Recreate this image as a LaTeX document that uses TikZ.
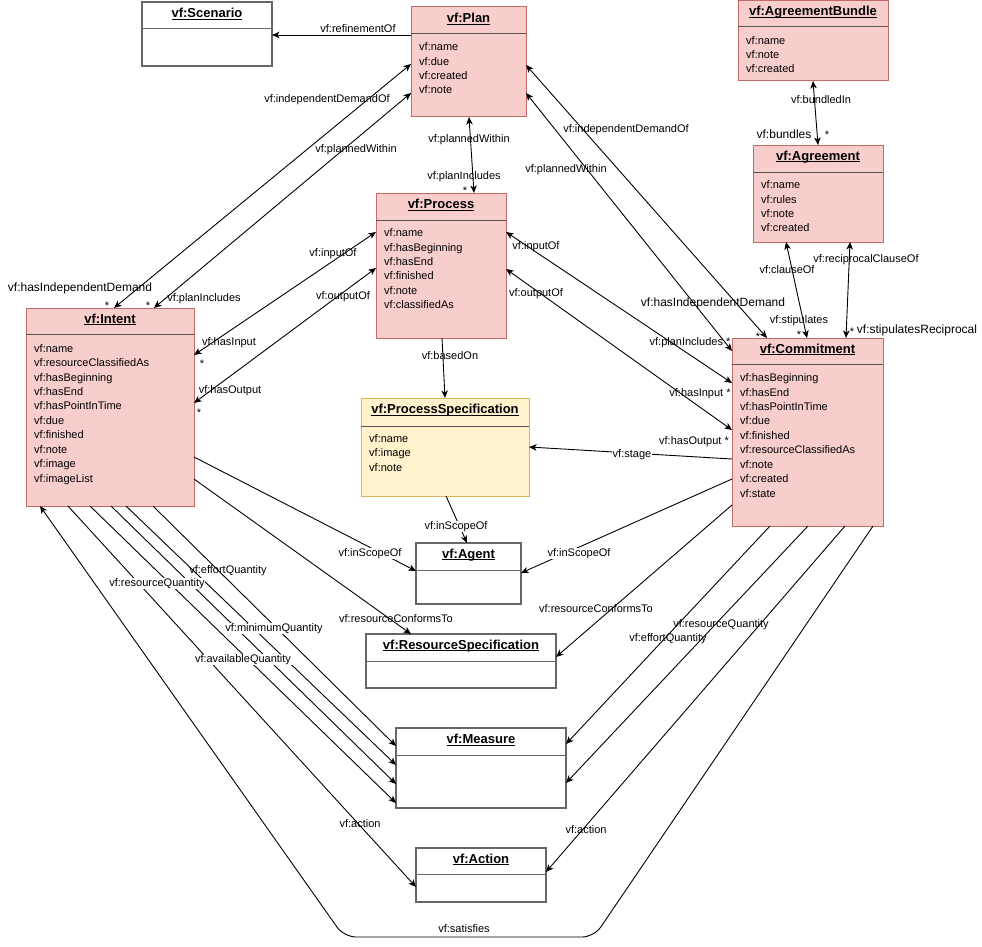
\documentclass[tikz,border=0pt]{standalone}
\usepackage{fontspec}
\setmainfont{Liberation Sans}
\usetikzlibrary{arrows.meta}
\definecolor{pinkfill}{HTML}{F8CECC}
\definecolor{pinkline}{HTML}{C46A66}
\definecolor{yelfill}{HTML}{FFF2CC}
\definecolor{yelline}{HTML}{D6B656}
\definecolor{boxgray}{HTML}{666666}
\definecolor{sepgray}{HTML}{555555}
\newcommand\attrfont{\fontsize{11}{13}\selectfont}
\newcommand\titlefont{\fontsize{13}{15}\selectfont\bfseries}
\newcommand\bigfont{\fontsize{12}{14}\selectfont}
\newcommand\ultext[1]{\setbox0=\hbox{#1}\dimen0=\wd0\rlap{\box0}\rule[-1.7pt]{\dimen0}{0.8pt}}
% #1 name, #2 box style, #3 x1, #4 y1, #5 x2, #6 y2, #7 separator y, #8 title, #9 separator colour
\newcommand\umlclass[9]{%
  \node[#2, minimum width={#5-#3}, minimum height={#6-#4}, anchor=north west] (#1) at (#3,#4) {};
  \draw[line width=1pt, draw=#9] (#3,#7) -- (#5,#7);
  \node[titletext] at ({(#3+#5)/2},{(#4+#7)/2-1.6}) {\ultext{#8}};
}
\newcommand\attrlist[3]{\foreach \a [count=\i from 0] in {#3} \node[attr] at (#1,{#2+14.45*\i}) {\a};}
\begin{document}
\begin{tikzpicture}[x=1pt,y=-1pt,
  pinkbox/.style={rectangle, draw=pinkline, fill=pinkfill, line width=1pt, inner sep=0pt, outer sep=0pt},
  yelbox/.style={rectangle, draw=yelline, fill=yelfill, line width=1pt, inner sep=0pt, outer sep=0pt},
  whitebox/.style={rectangle, draw=boxgray, fill=white, line width=1.1pt, inner sep=0pt, outer sep=0pt},
  titletext/.style={font=\titlefont, inner sep=0pt},
  attr/.style={font=\attrfont, anchor=west, inner sep=0pt, text height=8pt, text depth=2pt, yshift=-1.6pt},
  lbl/.style={font=\attrfont, inner sep=0.6pt, text height=8pt, text depth=2pt, yshift=-1.6pt},
  wlbl/.style={lbl, fill=white},
  biglbl/.style={font=\bigfont, inner sep=0.6pt, text height=8.7pt, text depth=2.2pt, yshift=-1.6pt},
  starlbl/.style={font=\attrfont, inner sep=0pt, text height=8pt, text depth=2pt, yshift=-4.8pt},
  edge/.style={line width=0.9pt, draw=black},
  arr/.style={edge, -{Stealth[length=7.5pt,width=6.5pt,inset=2pt]}},
  dbl/.style={edge, {Stealth[length=7.5pt,width=6.5pt,inset=2pt]}-{Stealth[length=7.5pt,width=6.5pt,inset=2pt]}}
]
\fill[white] (0,0) rectangle (982,947);
\useasboundingbox (0,0) rectangle (982,947);

% ---------- classes ----------
\umlclass{scenario}{whitebox}{142}{2}{272}{66}{29}{vf:Scenario}{boxgray}
\umlclass{plan}{pinkbox}{411}{7}{526}{117}{34}{vf:Plan}{sepgray}
\attrlist{419}{46}{vf:name,vf:due,vf:created,vf:note}
\umlclass{bundle}{pinkbox}{738}{1}{888}{81}{27}{vf:AgreementBundle}{sepgray}
\attrlist{746}{39.5}{vf:name,vf:note,vf:created}
\umlclass{agreement}{pinkbox}{753}{145}{883}{242}{172}{vf:Agreement}{sepgray}
\attrlist{761}{184}{vf:name,vf:rules,vf:note,vf:created}
\umlclass{process}{pinkbox}{376}{193}{506}{338}{220}{vf:Process}{sepgray}
\attrlist{384}{232}{vf:name,vf:hasBeginning,vf:hasEnd,vf:finished,vf:note,vf:classifiedAs}
\umlclass{intent}{pinkbox}{26}{308}{194}{506}{334}{vf:Intent}{sepgray}
\attrlist{34}{347.5}{vf:name,vf:resourceClassifiedAs,vf:hasBeginning,vf:hasEnd,vf:hasPointInTime,vf:due,vf:finished,vf:note,vf:image,vf:imageList}
\umlclass{procspec}{yelbox}{361}{398}{529}{496}{426}{vf:ProcessSpecification}{sepgray}
\attrlist{369}{437.5}{vf:name,vf:image,vf:note}
\umlclass{commitment}{pinkbox}{732}{338}{883}{526}{364}{vf:Commitment}{sepgray}
\attrlist{740}{377}{vf:hasBeginning,vf:hasEnd,vf:hasPointInTime,vf:due,vf:finished,vf:resourceClassifiedAs,vf:note,vf:created,vf:state}
\umlclass{agent}{whitebox}{416}{543}{521}{604}{570}{vf:Agent}{boxgray}
\umlclass{resspec}{whitebox}{366}{634}{556}{688}{661}{vf:ResourceSpecification}{boxgray}
\umlclass{measure}{whitebox}{396}{728}{566}{808}{755}{vf:Measure}{boxgray}
\umlclass{action}{whitebox}{416}{848}{546}{902}{874}{vf:Action}{boxgray}

% ---------- connectors ----------
\draw[arr] (plan.west |- 0,35) -- (scenario.east |- 0,35);
\draw[dbl] (intent.north -| 114,0) -- (plan.west |- 0,64);
\draw[dbl] (intent.north -| 154,0) -- (plan.west |- 0,93);
\draw[dbl] (plan.south -| 469,0) -- (process.north -| 474,0);
\draw[dbl] (intent.east |- 0,355) -- (process.west |- 0,232);
\draw[dbl] (intent.east |- 0,403) -- (process.west |- 0,268);
\draw[dbl] (process.east |- 0,232) -- (commitment.west |- 0,383);
\draw[dbl] (process.east |- 0,269) -- (commitment.west |- 0,430);
\draw[dbl] (plan.east |- 0,65) -- (commitment.north -| 767,0);
\draw[dbl] (plan.east |- 0,93) -- (commitment.west |- 0,351);
\draw[dbl] (bundle.south -| 813,0) -- (agreement.north -| 818,0);
\draw[dbl] (agreement.south -| 786,0) -- (commitment.north -| 807,0);
\draw[dbl] (agreement.south -| 850,0) -- (commitment.north -| 846,0);
\draw[arr] (process.south -| 442,0) -- (procspec.north -| 445,0);
\draw[arr] (commitment.west |- 0,459) -- (procspec.east |- 0,447);
\draw[arr] (procspec.south -| 446,0) -- (agent.north -| 467,0);
\draw[arr] (intent.east |- 0,457) -- (agent.west |- 0,571);
\draw[arr] (commitment.west |- 0,479) -- (agent.east |- 0,573);
\draw[arr] (intent.east |- 0,479) -- (resspec.north -| 411,0);
\draw[arr] (commitment.west |- 0,505) -- (resspec.east |- 0,657);
\draw[arr] (intent.south -| 153,0) -- (measure.west |- 0,746);
\draw[arr] (intent.south -| 126,0) -- (measure.west |- 0,765);
\draw[arr] (intent.south -| 111,0) -- (measure.west |- 0,784);
\draw[arr] (intent.south -| 90,0) -- (measure.west |- 0,803);
\draw[arr] (intent.south -| 68,0) -- (action.west |- 0,887);
\draw[arr] (commitment.south -| 770,0) -- (measure.east |- 0,744);
\draw[arr] (commitment.south -| 808,0) -- (measure.east |- 0,783);
\draw[arr] (commitment.south -| 845,0) -- (action.east |- 0,872);
\coordinate (satR) at (594,937);
\coordinate (satL) at (344,937);
\draw[arr, rounded corners=12pt] (commitment.south -| 873,0) -- (satR) -- (satL) -- (intent.south -| 40,0);

% ---------- labels ----------
\node[lbl] at (358,28) {vf:refinementOf};
\node[lbl] at (327,98) {vf:independentDemandOf};
\node[lbl] at (356,148) {vf:plannedWithin};
\node[biglbl] at (80,287) {vf:hasIndependentDemand};
\node[lbl] at (204,297) {vf:planIncludes};
\node[starlbl] at (107,302) {*};
\node[starlbl] at (148,302) {*};
\node[lbl] at (469,138) {vf:plannedWithin};
\node[lbl] at (464,175) {vf:planIncludes};
\node[starlbl] at (465,187) {*};
\node[lbl] at (333,252) {vf:inputOf};
\node[lbl] at (343,295) {vf:outputOf};
\node[lbl] at (229,341) {vf:hasInput};
\node[starlbl] at (202,360) {*};
\node[lbl] at (230,389) {vf:hasOutput};
\node[starlbl] at (199,409) {*};
\node[lbl] at (536,245) {vf:inputOf};
\node[lbl] at (536,292) {vf:outputOf};
\node[lbl] at (626,128) {vf:independentDemandOf};
\node[lbl] at (566,168) {vf:plannedWithin};
\node[biglbl] at (713,302) {vf:hasIndependentDemand};
\node[starlbl] at (758,333) {*};
\node[lbl] at (690,341) {vf:planIncludes *};
\node[lbl] at (700,392) {vf:hasInput *};
\node[lbl] at (694,440) {vf:hasOutput *};
\node[lbl] at (821,99) {vf:bundledIn};
\node[biglbl] at (784,134) {vf:bundles};
\node[starlbl] at (827,131) {*};
\node[lbl] at (787,269) {vf:clauseOf};
\node[lbl] at (799,319) {vf:stipulates};
\node[starlbl] at (799,331) {*};
\node[lbl] at (866,258) {vf:reciprocalClauseOf};
\node[starlbl] at (852,328) {*};
\node[biglbl] at (917,329) {vf:stipulatesReciprocal};
\node[lbl] at (450,355) {vf:basedOn};
\node[wlbl] at (632,453) {vf:stage};
\node[wlbl] at (456,525) {vf:inScopeOf};
\node[wlbl] at (370,552) {vf:inScopeOf};
\node[wlbl] at (579,552) {vf:inScopeOf};
\node[lbl] at (396,618) {vf:resourceConformsTo};
\node[lbl] at (596,608) {vf:resourceConformsTo};
\node[lbl] at (228,569) {vf:effortQuantity};
\node[wlbl] at (157,582) {vf:resourceQuantity};
\node[wlbl] at (274,627) {vf:minimumQuantity};
\node[wlbl] at (243,658) {vf:availableQuantity};
\node[lbl] at (360,823) {vf:action};
\node[lbl] at (668,637) {vf:effortQuantity};
\node[lbl] at (721,623) {vf:resourceQuantity};
\node[lbl] at (586,829) {vf:action};
\node[lbl] at (464,928) {vf:satisfies};
\end{tikzpicture}
\end{document}
